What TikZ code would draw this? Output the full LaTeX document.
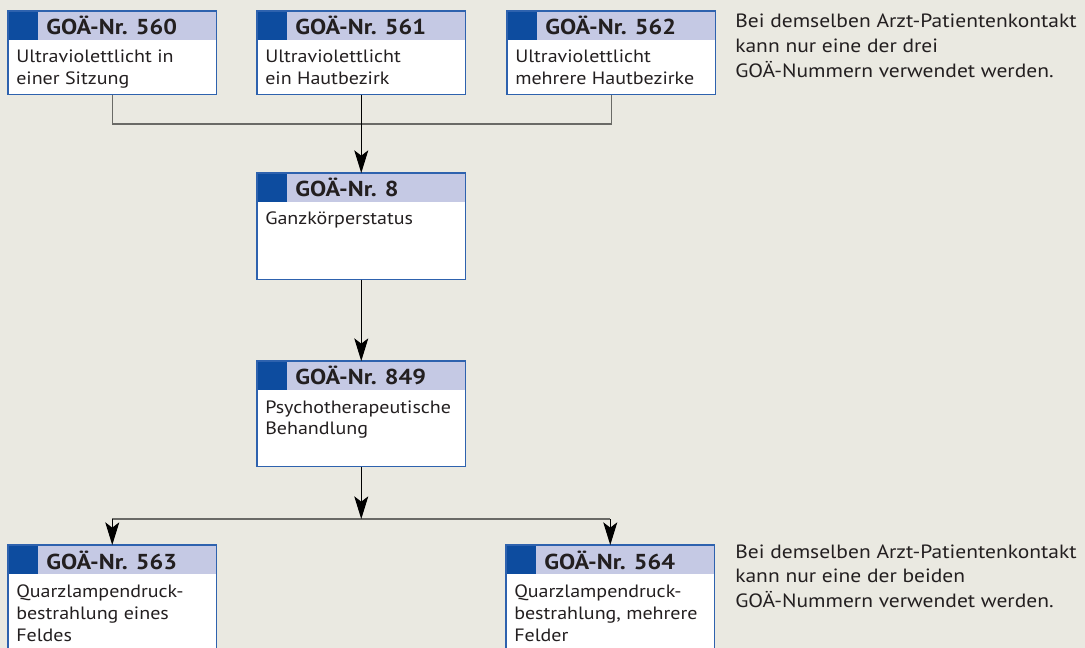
\documentclass[tikz,border=0pt]{standalone}
\usepackage{fontspec}
\setmainfont[FakeStretch=1.12]{PT Sans}
\usetikzlibrary{arrows.meta}
\definecolor{bg}{HTML}{EAE9E1}
\definecolor{hdrblue}{HTML}{C5C9E4}
\definecolor{dkblue}{HTML}{0D4C9F}
\definecolor{bordblue}{HTML}{2E62AE}
\definecolor{txt}{HTML}{231F20}
\definecolor{linegray}{HTML}{6A6A66}
\tikzset{
  boxbody/.style={fill=white, anchor=north west, inner sep=0pt, minimum width=156pt},
  boxline/.style={draw=bordblue, line width=0.9pt},
  hdr/.style={fill=hdrblue, anchor=north west, inner sep=0pt, minimum width=156pt, minimum height=21.75pt},
  sq/.style={fill=dkblue, anchor=north west, inner sep=0pt, minimum width=22.5pt, minimum height=21.75pt},
  hdrtext/.style={anchor=base west, inner sep=0pt, font=\bfseries\fontsize{16.2}{20}\selectfont, text=txt},
  bodytext/.style={anchor=base west, inner sep=0pt, font=\fontsize{13.4}{16.5}\selectfont, text=txt},
  note/.style={anchor=base west, inner sep=0pt, font=\fontsize{14.4}{18.4}\selectfont, text=txt},
  conn/.style={draw=linegray, line width=0.8pt},
  arr/.style={draw=black, line width=0.8pt, -{Stealth[length=17pt,width=10.5pt,inset=4pt]}},
}
\newcommand\toplines[2]{\parbox[t]{#1}{\raggedright #2}}
\newcommand\goabox[6]{%
  \node[boxbody, minimum height={#4*0.75pt}] (#1) at (#2,#3) {};
  \node[hdr] (#1-h) at (#1.north west) {};
  \node[sq] (#1-s) at (#1.north west) {};
  \draw[boxline] (#1.north west) rectangle (#1.south east);
  \node[hdrtext] (#1-n) at ([xshift=28.5pt,yshift=-18pt]#1.north west) {GOÄ-Nr. #5};
  \node[bodytext] (#1-t) at ([xshift=6pt,yshift=-39pt]#1.north west) {\toplines{150pt}{#6}};
}
\begin{document}
\begin{tikzpicture}[x=0.75pt,y=-0.75pt]
\useasboundingbox (0,0) rectangle (1085,648);
\clip (0,0) rectangle (1085,648);
\fill[bg] (0,0) rectangle (1085,648);

\goabox{n560}{8}{11}{83}{560}{Ultraviolettlicht in\\einer Sitzung}
\goabox{n561}{257}{11}{83}{561}{Ultraviolettlicht\\ein Hautbezirk}
\goabox{n562}{507}{11}{83}{562}{Ultraviolettlicht\\mehrere Hautbezirke}
\goabox{n8}{257}{173}{106}{8}{Ganzkörperstatus}
\goabox{n849}{257}{361}{105}{849}{Psychotherapeutische\\Behandlung}
\goabox{n563}{8}{545}{130}{563}{Quarzlampendruck-\\bestrahlung eines\\Feldes}
\goabox{n564}{506}{545}{130}{564}{Quarzlampendruck-\\bestrahlung, mehrere\\Felder}

\node[note] (note1) at (735,28) {\toplines{260pt}{Bei demselben Arzt-Patientenkontakt\\kann nur eine der drei\\GOÄ-Nummern verwendet werden.}};
\node[note] (note2) at (735,558) {\toplines{260pt}{Bei demselben Arzt-Patientenkontakt\\kann nur eine der beiden\\GOÄ-Nummern verwendet werden.}};

\coordinate (j1) at (n561.south |- 0,124);
\draw[conn] (n560.south) |- (j1) -| (n562.south);
\draw[arr] (n561.south) -- (n8.north);
\draw[arr] (n8.south) -- (n849.north);
\coordinate (j2) at (n849.south |- 0,519);
\coordinate (j2l) at (n563.north |- j2);
\coordinate (j2r) at (n564.north |- j2);
\draw[conn] (j2l) -- (j2r);
\draw[arr] (n849.south) -- (j2);
\draw[arr] (j2l) -- (n563.north);
\draw[arr] (j2r) -- (n564.north);
\end{tikzpicture}
\end{document}
